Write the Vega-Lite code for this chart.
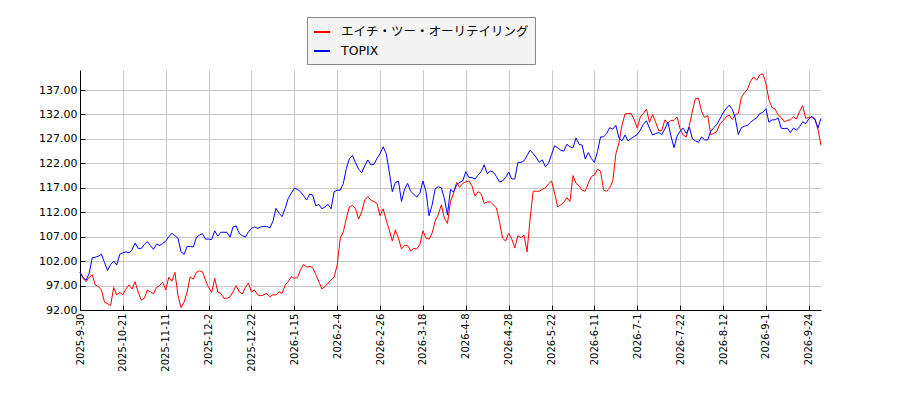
{
  "$schema": "https://vega.github.io/schema/vega-lite/v6.json",
  "width": 741,
  "height": 240,
  "autosize": {"type": "none"},
  "padding": {"left": 80, "top": 70, "right": 79, "bottom": 90},
  "background": "white",
  "data": {
    "values": [
      {"d": "2025-9-30", "h": 99.7, "t": 99.7},
      {"d": "2025-10-1", "h": 98.5, "t": 98.7},
      {"d": "2025-10-2", "h": 97.8, "t": 98.1},
      {"d": "2025-10-3", "h": 98.7, "t": 99.5},
      {"d": "2025-10-6", "h": 99.2, "t": 102.7},
      {"d": "2025-10-7", "h": 97.1, "t": 102.8},
      {"d": "2025-10-8", "h": 96.8, "t": 103.0},
      {"d": "2025-10-9", "h": 96.1, "t": 103.4},
      {"d": "2025-10-10", "h": 93.6, "t": 101.7},
      {"d": "2025-10-14", "h": 93.3, "t": 100.1},
      {"d": "2025-10-15", "h": 92.9, "t": 101.3},
      {"d": "2025-10-16", "h": 96.6, "t": 102.0},
      {"d": "2025-10-17", "h": 95.1, "t": 101.2},
      {"d": "2025-10-20", "h": 95.6, "t": 103.4},
      {"d": "2025-10-21", "h": 95.1, "t": 103.7},
      {"d": "2025-10-22", "h": 96.3, "t": 103.9},
      {"d": "2025-10-23", "h": 97.1, "t": 103.7},
      {"d": "2025-10-24", "h": 96.3, "t": 104.3},
      {"d": "2025-10-27", "h": 97.8, "t": 105.7},
      {"d": "2025-10-28", "h": 95.7, "t": 104.6},
      {"d": "2025-10-29", "h": 94.0, "t": 104.6},
      {"d": "2025-10-30", "h": 94.4, "t": 105.4},
      {"d": "2025-10-31", "h": 96.1, "t": 106.0},
      {"d": "2025-11-4", "h": 95.7, "t": 105.2},
      {"d": "2025-11-5", "h": 95.3, "t": 104.4},
      {"d": "2025-11-6", "h": 96.6, "t": 105.5},
      {"d": "2025-11-7", "h": 97.0, "t": 105.2},
      {"d": "2025-11-10", "h": 97.7, "t": 105.6},
      {"d": "2025-11-11", "h": 96.1, "t": 106.1},
      {"d": "2025-11-12", "h": 98.7, "t": 107.0},
      {"d": "2025-11-13", "h": 97.9, "t": 107.7},
      {"d": "2025-11-14", "h": 99.7, "t": 107.2},
      {"d": "2025-11-17", "h": 95.0, "t": 106.7},
      {"d": "2025-11-18", "h": 92.5, "t": 103.9},
      {"d": "2025-11-19", "h": 93.6, "t": 103.4},
      {"d": "2025-11-20", "h": 95.7, "t": 105.0},
      {"d": "2025-11-21", "h": 98.8, "t": 105.0},
      {"d": "2025-11-25", "h": 98.3, "t": 104.9},
      {"d": "2025-11-26", "h": 99.7, "t": 106.8},
      {"d": "2025-11-27", "h": 100.0, "t": 107.3},
      {"d": "2025-11-28", "h": 99.8, "t": 107.6},
      {"d": "2025-12-1", "h": 98.1, "t": 106.5},
      {"d": "2025-12-2", "h": 96.6, "t": 106.5},
      {"d": "2025-12-3", "h": 95.6, "t": 106.4},
      {"d": "2025-12-4", "h": 98.5, "t": 108.2},
      {"d": "2025-12-5", "h": 95.7, "t": 107.1},
      {"d": "2025-12-8", "h": 95.4, "t": 107.9},
      {"d": "2025-12-9", "h": 94.4, "t": 107.9},
      {"d": "2025-12-10", "h": 94.4, "t": 107.9},
      {"d": "2025-12-11", "h": 94.7, "t": 106.9},
      {"d": "2025-12-12", "h": 95.7, "t": 109.0},
      {"d": "2025-12-15", "h": 97.0, "t": 109.2},
      {"d": "2025-12-16", "h": 95.7, "t": 107.7},
      {"d": "2025-12-17", "h": 95.3, "t": 107.2},
      {"d": "2025-12-18", "h": 96.6, "t": 106.9},
      {"d": "2025-12-19", "h": 97.5, "t": 108.0},
      {"d": "2025-12-22", "h": 95.7, "t": 108.7},
      {"d": "2025-12-23", "h": 96.1, "t": 109.0},
      {"d": "2025-12-24", "h": 95.1, "t": 108.7},
      {"d": "2025-12-25", "h": 94.9, "t": 109.0},
      {"d": "2025-12-26", "h": 95.1, "t": 109.1},
      {"d": "2025-12-29", "h": 95.4, "t": 109.1},
      {"d": "2025-12-30", "h": 94.7, "t": 108.8},
      {"d": "2026-1-5", "h": 95.1, "t": 110.1},
      {"d": "2026-1-6", "h": 95.1, "t": 112.8},
      {"d": "2026-1-7", "h": 95.7, "t": 111.8},
      {"d": "2026-1-8", "h": 95.4, "t": 111.1},
      {"d": "2026-1-9", "h": 97.1, "t": 112.8},
      {"d": "2026-1-13", "h": 97.8, "t": 114.8},
      {"d": "2026-1-14", "h": 98.8, "t": 115.9},
      {"d": "2026-1-15", "h": 98.5, "t": 116.9},
      {"d": "2026-1-16", "h": 98.6, "t": 116.7},
      {"d": "2026-1-19", "h": 100.2, "t": 116.2},
      {"d": "2026-1-20", "h": 101.3, "t": 115.4},
      {"d": "2026-1-21", "h": 100.8, "t": 114.5},
      {"d": "2026-1-22", "h": 100.9, "t": 115.7},
      {"d": "2026-1-23", "h": 100.7, "t": 115.5},
      {"d": "2026-1-26", "h": 99.3, "t": 113.3},
      {"d": "2026-1-27", "h": 97.8, "t": 113.6},
      {"d": "2026-1-28", "h": 96.3, "t": 112.7},
      {"d": "2026-1-29", "h": 96.8, "t": 113.1},
      {"d": "2026-1-30", "h": 97.5, "t": 113.6},
      {"d": "2026-2-2", "h": 98.1, "t": 112.7},
      {"d": "2026-2-3", "h": 98.8, "t": 116.2},
      {"d": "2026-2-4", "h": 101.2, "t": 116.5},
      {"d": "2026-2-5", "h": 106.7, "t": 116.5},
      {"d": "2026-2-6", "h": 108.0, "t": 117.9},
      {"d": "2026-2-9", "h": 110.8, "t": 121.0},
      {"d": "2026-2-10", "h": 113.1, "t": 123.0},
      {"d": "2026-2-12", "h": 113.4, "t": 123.6},
      {"d": "2026-2-13", "h": 112.7, "t": 122.1},
      {"d": "2026-2-16", "h": 110.6, "t": 120.8},
      {"d": "2026-2-17", "h": 112.1, "t": 120.1},
      {"d": "2026-2-18", "h": 114.5, "t": 121.5},
      {"d": "2026-2-19", "h": 115.2, "t": 122.7},
      {"d": "2026-2-20", "h": 114.5, "t": 121.7},
      {"d": "2026-2-24", "h": 114.2, "t": 121.8},
      {"d": "2026-2-25", "h": 113.8, "t": 123.0},
      {"d": "2026-2-26", "h": 111.3, "t": 124.0},
      {"d": "2026-2-27", "h": 112.7, "t": 125.4},
      {"d": "2026-3-2", "h": 110.4, "t": 124.0},
      {"d": "2026-3-3", "h": 108.4, "t": 120.3},
      {"d": "2026-3-4", "h": 106.1, "t": 116.2},
      {"d": "2026-3-5", "h": 108.4, "t": 118.1},
      {"d": "2026-3-6", "h": 106.7, "t": 118.4},
      {"d": "2026-3-9", "h": 104.5, "t": 114.2},
      {"d": "2026-3-10", "h": 105.2, "t": 116.7},
      {"d": "2026-3-11", "h": 105.2, "t": 117.9},
      {"d": "2026-3-12", "h": 104.1, "t": 116.3},
      {"d": "2026-3-13", "h": 104.6, "t": 115.7},
      {"d": "2026-3-16", "h": 104.5, "t": 115.1},
      {"d": "2026-3-17", "h": 105.4, "t": 115.9},
      {"d": "2026-3-18", "h": 108.2, "t": 118.4},
      {"d": "2026-3-19", "h": 106.7, "t": 116.2},
      {"d": "2026-3-23", "h": 106.5, "t": 111.3},
      {"d": "2026-3-24", "h": 107.7, "t": 113.5},
      {"d": "2026-3-25", "h": 110.2, "t": 116.8},
      {"d": "2026-3-26", "h": 111.5, "t": 117.2},
      {"d": "2026-3-27", "h": 113.5, "t": 117.0},
      {"d": "2026-3-30", "h": 110.8, "t": 114.8},
      {"d": "2026-3-31", "h": 109.7, "t": 111.5},
      {"d": "2026-4-1", "h": 114.2, "t": 116.7},
      {"d": "2026-4-2", "h": 115.9, "t": 116.1},
      {"d": "2026-4-3", "h": 118.1, "t": 117.6},
      {"d": "2026-4-6", "h": 117.1, "t": 118.1},
      {"d": "2026-4-7", "h": 117.9, "t": 118.4},
      {"d": "2026-4-8", "h": 118.2, "t": 120.3},
      {"d": "2026-4-9", "h": 118.4, "t": 119.1},
      {"d": "2026-4-10", "h": 117.4, "t": 119.1},
      {"d": "2026-4-13", "h": 115.3, "t": 118.8},
      {"d": "2026-4-14", "h": 116.2, "t": 119.6},
      {"d": "2026-4-15", "h": 115.8, "t": 120.3},
      {"d": "2026-4-16", "h": 113.8, "t": 121.7},
      {"d": "2026-4-17", "h": 114.1, "t": 119.9},
      {"d": "2026-4-20", "h": 114.1, "t": 120.4},
      {"d": "2026-4-21", "h": 113.5, "t": 120.2},
      {"d": "2026-4-22", "h": 112.9, "t": 119.3},
      {"d": "2026-4-23", "h": 110.1, "t": 118.2},
      {"d": "2026-4-24", "h": 106.7, "t": 118.4},
      {"d": "2026-4-27", "h": 106.1, "t": 119.1},
      {"d": "2026-4-28", "h": 107.7, "t": 120.2},
      {"d": "2026-4-30", "h": 106.5, "t": 118.8},
      {"d": "2026-5-1", "h": 104.7, "t": 118.8},
      {"d": "2026-5-7", "h": 107.2, "t": 122.2},
      {"d": "2026-5-8", "h": 106.8, "t": 122.2},
      {"d": "2026-5-11", "h": 107.3, "t": 122.5},
      {"d": "2026-5-12", "h": 103.9, "t": 123.6},
      {"d": "2026-5-13", "h": 110.7, "t": 124.7},
      {"d": "2026-5-14", "h": 116.3, "t": 124.0},
      {"d": "2026-5-15", "h": 116.3, "t": 123.2},
      {"d": "2026-5-18", "h": 116.3, "t": 122.2},
      {"d": "2026-5-19", "h": 116.7, "t": 122.7},
      {"d": "2026-5-20", "h": 117.0, "t": 121.3},
      {"d": "2026-5-21", "h": 117.8, "t": 122.0},
      {"d": "2026-5-22", "h": 118.4, "t": 123.8},
      {"d": "2026-5-25", "h": 115.9, "t": 125.6},
      {"d": "2026-5-26", "h": 113.1, "t": 125.2},
      {"d": "2026-5-27", "h": 113.5, "t": 124.7},
      {"d": "2026-5-28", "h": 114.0, "t": 124.5},
      {"d": "2026-5-29", "h": 115.0, "t": 125.9},
      {"d": "2026-6-1", "h": 114.2, "t": 125.4},
      {"d": "2026-6-2", "h": 119.5, "t": 125.2},
      {"d": "2026-6-3", "h": 117.9, "t": 127.2},
      {"d": "2026-6-4", "h": 117.4, "t": 125.9},
      {"d": "2026-6-5", "h": 116.5, "t": 125.7},
      {"d": "2026-6-8", "h": 116.3, "t": 122.9},
      {"d": "2026-6-9", "h": 117.9, "t": 124.2},
      {"d": "2026-6-10", "h": 119.3, "t": 123.0},
      {"d": "2026-6-11", "h": 119.6, "t": 122.2},
      {"d": "2026-6-12", "h": 120.8, "t": 124.4},
      {"d": "2026-6-15", "h": 120.4, "t": 127.4},
      {"d": "2026-6-16", "h": 116.5, "t": 127.4},
      {"d": "2026-6-17", "h": 116.3, "t": 128.1},
      {"d": "2026-6-18", "h": 117.0, "t": 129.3},
      {"d": "2026-6-19", "h": 118.4, "t": 129.0},
      {"d": "2026-6-22", "h": 123.9, "t": 129.8},
      {"d": "2026-6-23", "h": 126.2, "t": 127.2},
      {"d": "2026-6-24", "h": 129.8, "t": 126.6},
      {"d": "2026-6-25", "h": 132.1, "t": 127.8},
      {"d": "2026-6-26", "h": 132.2, "t": 126.6},
      {"d": "2026-6-29", "h": 132.2, "t": 127.1},
      {"d": "2026-6-30", "h": 130.9, "t": 127.5},
      {"d": "2026-7-1", "h": 129.2, "t": 127.9},
      {"d": "2026-7-2", "h": 131.5, "t": 128.8},
      {"d": "2026-7-3", "h": 132.2, "t": 130.0},
      {"d": "2026-7-6", "h": 133.1, "t": 130.7},
      {"d": "2026-7-7", "h": 130.4, "t": 129.2},
      {"d": "2026-7-8", "h": 132.0, "t": 127.8},
      {"d": "2026-7-9", "h": 130.4, "t": 128.1},
      {"d": "2026-7-10", "h": 128.7, "t": 128.3},
      {"d": "2026-7-13", "h": 128.7, "t": 127.9},
      {"d": "2026-7-14", "h": 130.9, "t": 129.0},
      {"d": "2026-7-15", "h": 130.2, "t": 130.4},
      {"d": "2026-7-16", "h": 130.8, "t": 127.6},
      {"d": "2026-7-17", "h": 130.8, "t": 125.2},
      {"d": "2026-7-21", "h": 131.5, "t": 127.6},
      {"d": "2026-7-22", "h": 129.0, "t": 128.6},
      {"d": "2026-7-23", "h": 127.8, "t": 129.2},
      {"d": "2026-7-24", "h": 127.4, "t": 128.1},
      {"d": "2026-7-27", "h": 129.8, "t": 129.4},
      {"d": "2026-7-28", "h": 132.7, "t": 127.0},
      {"d": "2026-7-29", "h": 135.3, "t": 126.6},
      {"d": "2026-7-30", "h": 135.3, "t": 126.3},
      {"d": "2026-7-31", "h": 132.6, "t": 127.4},
      {"d": "2026-8-3", "h": 131.4, "t": 126.8},
      {"d": "2026-8-4", "h": 131.8, "t": 126.8},
      {"d": "2026-8-5", "h": 127.9, "t": 128.6},
      {"d": "2026-8-6", "h": 128.1, "t": 129.3},
      {"d": "2026-8-7", "h": 128.6, "t": 130.0},
      {"d": "2026-8-10", "h": 130.1, "t": 131.1},
      {"d": "2026-8-12", "h": 130.7, "t": 132.3},
      {"d": "2026-8-13", "h": 131.5, "t": 133.2},
      {"d": "2026-8-14", "h": 131.9, "t": 133.9},
      {"d": "2026-8-17", "h": 131.0, "t": 133.1},
      {"d": "2026-8-18", "h": 131.9, "t": 131.3},
      {"d": "2026-8-19", "h": 132.2, "t": 127.9},
      {"d": "2026-8-20", "h": 135.5, "t": 129.3},
      {"d": "2026-8-21", "h": 136.4, "t": 129.6},
      {"d": "2026-8-24", "h": 137.2, "t": 129.8},
      {"d": "2026-8-25", "h": 138.8, "t": 130.4},
      {"d": "2026-8-26", "h": 139.7, "t": 130.9},
      {"d": "2026-8-27", "h": 139.0, "t": 131.3},
      {"d": "2026-8-28", "h": 140.1, "t": 132.2},
      {"d": "2026-8-31", "h": 140.3, "t": 132.4},
      {"d": "2026-9-1", "h": 138.4, "t": 133.2},
      {"d": "2026-9-2", "h": 135.0, "t": 130.4},
      {"d": "2026-9-3", "h": 133.4, "t": 130.9},
      {"d": "2026-9-4", "h": 133.1, "t": 130.9},
      {"d": "2026-9-7", "h": 131.9, "t": 131.3},
      {"d": "2026-9-8", "h": 131.4, "t": 129.2},
      {"d": "2026-9-9", "h": 130.5, "t": 129.1},
      {"d": "2026-9-10", "h": 130.8, "t": 129.2},
      {"d": "2026-9-11", "h": 130.9, "t": 128.3},
      {"d": "2026-9-14", "h": 131.5, "t": 129.2},
      {"d": "2026-9-15", "h": 131.1, "t": 128.8},
      {"d": "2026-9-16", "h": 132.6, "t": 129.5},
      {"d": "2026-9-17", "h": 133.8, "t": 130.5},
      {"d": "2026-9-18", "h": 131.2, "t": 130.1},
      {"d": "2026-9-24", "h": 131.4, "t": 131.1},
      {"d": "2026-9-25", "h": 131.4, "t": 131.6},
      {"d": "2026-9-28", "h": 131.2, "t": 131.0},
      {"d": "2026-9-29", "h": 129.0, "t": 129.2},
      {"d": "2026-9-30", "h": 125.7, "t": 131.2}
    ]
  },
  "transform": [{"fold": ["h", "t"], "as": ["s", "v"]}],
  "mark": {"type": "line", "strokeWidth": 1},
  "encoding": {
    "x": {
      "field": "d",
      "type": "ordinal",
      "sort": null,
      "scale": {"type": "point", "padding": 0},
      "axis": {
        "title": null,
        "labelAngle": -90,
        "labelFontSize": 10,
        "values": ["2025-9-30", "2025-10-21", "2025-11-11", "2025-12-2", "2025-12-22", "2026-1-15", "2026-2-4", "2026-2-26", "2026-3-18", "2026-4-8", "2026-4-28", "2026-5-22", "2026-6-11", "2026-7-1", "2026-7-22", "2026-8-12", "2026-9-1", "2026-9-24"]
      }
    },
    "y": {
      "field": "v",
      "type": "quantitative",
      "scale": {"domain": [92, 141.1], "nice": false, "zero": false},
      "axis": {
        "title": null,
        "format": ".2f",
        "labelFontSize": 11,
        "values": [92, 97, 102, 107, 112, 117, 122, 127, 132, 137]
      }
    },
    "color": {
      "field": "s",
      "type": "nominal",
      "scale": {"domain": ["h", "t"], "range": ["#ff0000", "#0000ff"]},
      "legend": {
        "title": null,
        "orient": "none",
        "legendX": 227,
        "legendY": -53,
        "direction": "vertical",
        "fillColor": "#f4f4f4",
        "strokeColor": "#888888",
        "padding": 6,
        "symbolType": "stroke",
        "symbolStrokeWidth": 2,
        "symbolSize": 256,
        "labelFont": "DejaVu Sans, Noto Sans CJK JP",
        "labelFontSize": 12.5,
        "labelColor": "#000000",
        "labelOffset": 10,
        "labelLimit": 400,
        "rowPadding": 3,
        "labelExpr": "datum.label == 'h' ? 'エイチ・ツー・オーリテイリング' : 'TOPIX'"
      }
    }
  },
  "config": {
    "view": {"stroke": null},
    "axis": {
      "labelFont": "DejaVu Sans",
      "labelColor": "#000000",
      "domainColor": "#000000",
      "tickColor": "#000000",
      "tickSize": -5,
      "labelPadding": 8,
      "gridColor": "#c8c8c8",
      "gridOpacity": 1,
      "grid": true
    }
  }
}
